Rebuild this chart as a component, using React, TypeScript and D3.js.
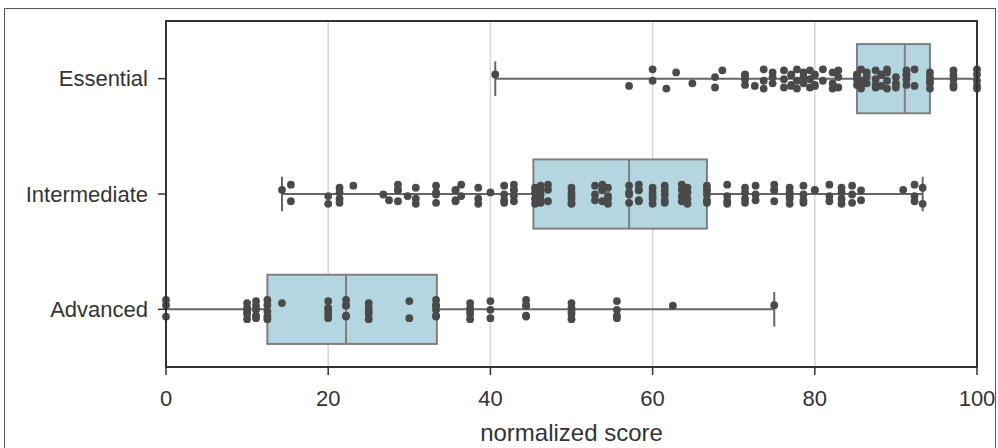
import React from 'react';
import * as d3 from 'd3';

// categories top to bottom
const categories = ['Essential', 'Intermediate', 'Advanced'];

// strip points as [score, how many at that score]
const essentialPoints: [number, number][] = [
  [40.6, 1], [57.1, 1], [60, 2], [61.7, 1], [62.9, 1], [64.9, 1], [67.7, 2], [68.6, 1],
  [71.4, 4], [72.6, 1], [73.7, 3], [74.8, 3], [76.2, 3], [77.1, 4], [77.8, 3], [78.6, 3],
  [79.4, 3], [80, 4], [81, 2], [82.2, 3], [82.9, 3], [85.2, 4], [85.7, 4], [86.4, 3],
  [87.5, 4], [88.2, 3], [88.9, 4], [90, 3], [91.3, 5], [92.3, 2], [94.2, 5], [97.1, 5], [100, 5],
];

const intermediatePoints: [number, number][] = [
  [14.3, 1], [15.4, 2], [20, 2], [21.4, 4], [23.1, 1], [26.8, 1], [27.5, 1], [28.6, 4],
  [29.8, 1], [30.8, 3], [33.3, 4], [35.7, 4], [36.4, 2], [38.5, 3], [40, 1], [41.7, 4],
  [42.9, 5], [45.5, 4], [46.2, 5], [47.1, 3], [50, 6], [52.9, 3], [53.8, 4], [54.5, 4],
  [57.1, 4], [58.3, 5], [60, 5], [61.5, 5], [63.6, 4], [64.3, 4], [66.7, 6], [69.2, 4],
  [71.4, 4], [72.7, 3], [75, 4], [76.9, 5], [78.6, 4], [80, 2], [81.8, 3], [83.3, 4],
  [84.6, 3], [85.7, 2], [90.9, 1], [92.3, 3], [93.3, 2],
];

const advancedPoints: [number, number][] = [
  [0, 3], [10, 5], [11.1, 5], [12.5, 5], [14.3, 1], [20, 5], [22.2, 5], [25, 5], [30, 2],
  [33.3, 6], [37.5, 5], [40, 3], [44.4, 5], [50, 5], [55.6, 4], [62.5, 1], [75, 1],
];

// box stats, same order as categories
const whiskerLow = [40.6, 14.3, 0];
const q1 = [85.2, 45.3, 12.5];
const median = [91.1, 57.1, 22.2];
const q3 = [94.2, 66.7, 33.4];
const whiskerHigh = [100, 93.3, 75];

const xTicks = [0, 20, 40, 60, 80, 100];

// fixed vertical jitter pattern (fraction of the jitter width)
const jitterPattern = [-0.4, 0.7, -0.9, 0.2, 0.95, -0.6, 0.45, -0.15, 0.85, -0.8, 0.05, 0.6, -0.35];

const W = 998;
const H = 448;
const margin = { left: 166, right: 21, top: 21, bottom: 81 };
const font = '"Liberation Sans", Arial, sans-serif';

export default function App() {
  const x = d3.scaleLinear().domain([0, 100]).range([margin.left, W - margin.right]);
  const y = d3.scaleBand().domain(categories).range([margin.top, H - margin.bottom]).padding(0);
  const bw = y.bandwidth();
  const boxH = bw * 0.6;
  const jit = bw * 0.09;
  const allPoints = [essentialPoints, intermediatePoints, advancedPoints];

  const dots = allPoints.flatMap((pts, ci) => {
    const cy = (y(categories[ci]) as number) + bw / 2;
    let k = 0;
    return pts.flatMap(([v, n]) =>
      d3.range(n).map(() => {
        const off = jitterPattern[k % jitterPattern.length] * jit;
        k++;
        return { key: `${ci}-${k}`, cx: x(v), cy: cy + off };
      })
    );
  });

  return (
    <svg width={W} height={H} style={{ position: 'absolute', left: 0, top: 0, background: '#fff' }}>
      <rect x={4.5} y={8.5} width={991} height={470} fill="#fff" stroke="#555" strokeWidth={1} />

      {/* grid */}
      {xTicks.map((t) => (
        <line key={`g${t}`} x1={x(t)} x2={x(t)} y1={margin.top} y2={H - margin.bottom} stroke="#d4d4d4" strokeWidth={1.5} />
      ))}

      {/* boxes */}
      {categories.map((c, i) => {
        const cy = (y(c) as number) + bw / 2;
        return (
          <g key={c}>
            <line x1={x(whiskerLow[i])} x2={x(q1[i])} y1={cy} y2={cy} stroke="#666" strokeWidth={2} />
            <line x1={x(q3[i])} x2={x(whiskerHigh[i])} y1={cy} y2={cy} stroke="#666" strokeWidth={2} />
            <line x1={x(whiskerLow[i])} x2={x(whiskerLow[i])} y1={cy - boxH / 4} y2={cy + boxH / 4} stroke="#666" strokeWidth={2} />
            <line x1={x(whiskerHigh[i])} x2={x(whiskerHigh[i])} y1={cy - boxH / 4} y2={cy + boxH / 4} stroke="#666" strokeWidth={2} />
            <rect x={x(q1[i])} y={cy - boxH / 2} width={x(q3[i]) - x(q1[i])} height={boxH} fill="#b3d6e1" stroke="#7f7f7f" strokeWidth={2} />
            <line x1={x(median[i])} x2={x(median[i])} y1={cy - boxH / 2} y2={cy + boxH / 2} stroke="#7f7f7f" strokeWidth={2} />
          </g>
        );
      })}

      {/* strip */}
      {dots.map((d) => (
        <circle key={d.key} cx={d.cx} cy={d.cy} r={3.9} fill="#4a4a4a" />
      ))}

      {/* frame */}
      <rect x={margin.left} y={margin.top} width={W - margin.left - margin.right} height={H - margin.top - margin.bottom} fill="none" stroke="#333" strokeWidth={2} />

      {/* x axis */}
      {xTicks.map((t) => (
        <g key={`t${t}`}>
          <line x1={x(t)} x2={x(t)} y1={H - margin.bottom} y2={H - margin.bottom + 8} stroke="#333" strokeWidth={1.5} />
          <text x={x(t)} y={H - margin.bottom + 39} textAnchor="middle" fontFamily={font} fontSize={22} fill="#333">{t}</text>
        </g>
      ))}
      <text x={(x(0) + x(100)) / 2} y={H - 7} textAnchor="middle" fontFamily={font} fontSize={24} fill="#333">normalized score</text>

      {/* y axis */}
      {categories.map((c) => {
        const cy = (y(c) as number) + bw / 2;
        return (
          <g key={`y${c}`}>
            <line x1={margin.left - 8} x2={margin.left} y1={cy} y2={cy} stroke="#333" strokeWidth={1.5} />
            <text x={margin.left - 18} y={cy} dy="0.35em" textAnchor="end" fontFamily={font} fontSize={22} fill="#333">{c}</text>
          </g>
        );
      })}
    </svg>
  );
}
